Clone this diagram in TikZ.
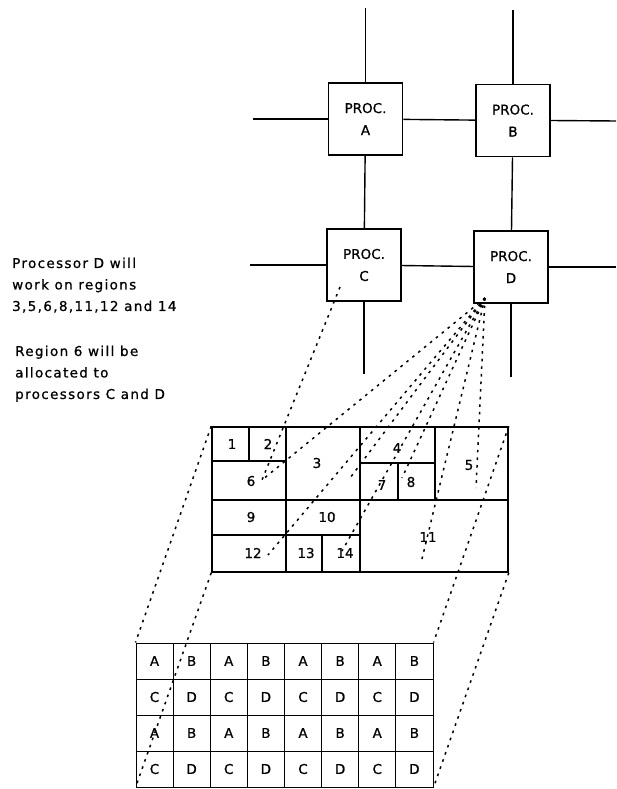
\documentclass[tikz,border=0pt]{standalone}
\usepackage{fontspec}
\setmainfont[FakeBold=0.8]{DejaVu Sans}
\newfontfamily\notefont[LetterSpace=10,FakeBold=0.8]{DejaVu Sans}
\begin{document}
\begin{tikzpicture}[x=1pt,y=-1pt,
  proc/.style={draw,line width=1.8pt,minimum width=74pt,minimum height=72pt,inner sep=0pt,align=center,font=\fontsize{13.5}{22}\selectfont},
  link/.style={line width=1.4pt},
  proj/.style={line width=1.5pt,dash pattern=on 2.6pt off 5pt},
  lbl/.style={inner sep=0pt,font=\fontsize{13.5}{16}\selectfont},
  note/.style={anchor=north west,align=left,inner sep=0pt,font=\notefont\fontsize{13.5}{21.5}\selectfont}]
\useasboundingbox (0,0) rectangle (616,789);
% processors and their links
\node[proc] (A) at (365.5,119) {PROC.\\A};
\node[proc] (B) at (513,120.5) {PROC.\\B};
\node[proc] (C) at (364,265) {PROC.\\C};
\node[proc] (D) at (511,267) {PROC.\\D};
\coordinate (Atop) at (365.5,8); \coordinate (Aleft) at (253,119);
\coordinate (Btop) at (513,10); \coordinate (Bright) at (616,121);
\coordinate (Cleft) at (250,265); \coordinate (Cdown) at (364,374);
\coordinate (Dright) at (616,267); \coordinate (Ddown) at (511,377);
\draw[link] (A.north) -- (Atop); \draw[link] (A.west) -- (Aleft);
\draw[link] (B.north) -- (Btop); \draw[link] (B.east) -- (Bright);
\draw[link] (C.west) -- (Cleft); \draw[link] (C.south) -- (Cdown);
\draw[link] (D.east) -- (Dright); \draw[link] (D.south) -- (Ddown);
\draw[link] (A) -- (B); \draw[link] (A) -- (C);
\draw[link] (B) -- (D); \draw[link] (C) -- (D);
% notes
\node[note] (noteD) at (12,257.5) {Processor D will\\work on regions\\3,5,6,8,11,12 and 14};
\node[note] (note6) at (15,345.5) {Region 6 will be\\allocated to\\processors C and D};
% regions
\node[draw,line width=1.6pt,minimum width=296pt,minimum height=145pt,inner sep=0pt] (regions) at (360,499.5) {};
\draw[line width=1.3pt]
  (249,427) -- (249,461)
  (212,461) -- (286,461)
  (286,427) -- (286,572)
  (212,500) -- (360,500)
  (212,535) -- (360,535)
  (322,535) -- (322,572)
  (360,427) -- (360,572)
  (360,463) -- (435,463)
  (398,463) -- (398,500)
  (435,427) -- (435,500)
  (360,500) -- (508,500);
\node[lbl] (r1) at (232,444) {1};
\node[lbl] (r2) at (268,444) {2};
\node[lbl] (r3) at (317,463) {3};
\node[lbl] (r4) at (397,448) {4};
\node[lbl] (r5) at (469,465) {5};
\node[lbl] (r6) at (251,481) {6};
\node[lbl] (r7) at (382,485) {7};
\node[lbl] (r8) at (411,482) {8};
\node[lbl] (r9) at (251,517) {9};
\node[lbl] (r10) at (327,517) {10};
\node[lbl] (r11) at (428,537) {11};
\node[lbl] (r12) at (253,553) {12};
\node[lbl] (r13) at (306,553) {13};
\node[lbl] (r14) at (345,553) {14};
% blocks
\node[draw,line width=1pt,minimum width=297pt,minimum height=144pt,inner sep=0pt] (blocks) at (284.5,715) {};
\foreach \i in {1,...,7} \draw[line width=1pt] (136+\i*37.125,643) -- ++(0,144);
\foreach \j in {1,2,3} \draw[line width=1pt] (136,643+\j*36) -- ++(297,0);
\foreach \r/\ea/\eb in {0/A/B,1/C/D,2/A/B,3/C/D}
  \foreach \c in {0,2,4,6} {
    \pgfmathtruncatemacro\cc{\c+1}
    \node[lbl] (b\r\c) at (154.5+\c*37.125,661+\r*36) {\ea};
    \node[lbl] (b\r\cc) at (154.5+\cc*37.125,661+\r*36) {\eb};
  }
% mapping lines
\draw[proj] (regions.north west) -- (blocks.north west);
\draw[proj] (regions.south west) -- (blocks.south west);
\draw[proj] (regions.north east) -- (blocks.north east);
\draw[proj] (regions.south east) -- (blocks.south east);
\coordinate (Cfoot) at (340,287); \coordinate (Dfoot) at (485,298);
\coordinate (p3) at (350,478); \coordinate (p5) at (476,488);
\coordinate (p6) at (262,480); \coordinate (p8) at (402,478);
\coordinate (p11) at (421,563); \coordinate (p12) at (268,555);
\coordinate (p14) at (342,551);
\draw[proj] (Cfoot) -- (p6);
\foreach \p in {p3,p5,p6,p8,p11,p12,p14} \draw[proj] (Dfoot) -- (\p);
\end{tikzpicture}
\end{document}
